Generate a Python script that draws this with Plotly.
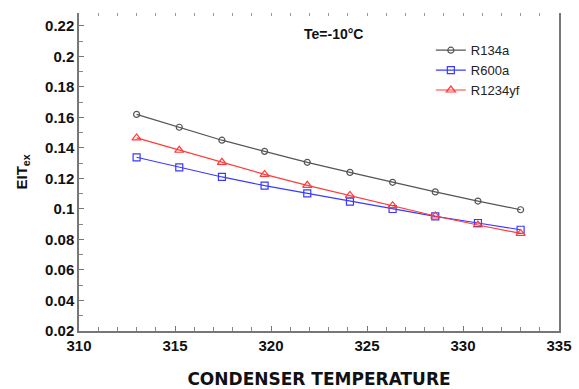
import plotly.graph_objects as go

temps = [313 + i * 20 / 9 for i in range(10)]
r134a = [0.162, 0.1536, 0.1451, 0.1378, 0.1306, 0.124, 0.1175, 0.1112, 0.1052, 0.0995]
r600a = [0.1339, 0.1273, 0.121, 0.1153, 0.1103, 0.1048, 0.1000, 0.0951, 0.0908, 0.0864]
r1234yf = [0.1466, 0.1385, 0.1306, 0.1227, 0.1155, 0.1089, 0.1022, 0.0954, 0.0895, 0.0840]

xticks = [310, 315, 320, 325, 330, 335]
yticks = [0.02, 0.04, 0.06, 0.08, 0.1, 0.12, 0.14, 0.16, 0.18, 0.2, 0.22]
ytick_labels = ["0.02", "0.04", "0.06", "0.08", "0.1", "0.12", "0.14", "0.16", "0.18", "0.2", "0.22"]

fig = go.Figure()
fig.add_trace(go.Scatter(x=temps, y=r134a, name="R134a", mode="lines+markers",
                         line=dict(color="#555555", width=1.2),
                         marker=dict(symbol="circle-open", size=6, color="#555555", line=dict(width=1.2))))
fig.add_trace(go.Scatter(x=temps, y=r600a, name="R600a", mode="lines+markers",
                         line=dict(color="#3a3aff", width=1.2),
                         marker=dict(symbol="square-open", size=7, color="#3a3aff", line=dict(width=1.2))))
fig.add_trace(go.Scatter(x=temps, y=r1234yf, name="R1234yf", mode="lines+markers",
                         line=dict(color="#ff3b3b", width=1.2),
                         marker=dict(symbol="triangle-up-open", size=8, color="#ff3b3b", line=dict(width=1.2))))
fig.add_trace(go.Scatter(x=[310], y=[0.02], xaxis="x2", mode="markers", marker=dict(opacity=0),
                         showlegend=False, hoverinfo="skip"))

tick_font = dict(family="Liberation Sans, Arial", size=15, color="#111111", weight="bold")
fig.update_layout(
    width=579, height=389,
    margin=dict(l=79, r=20, t=13, b=58, autoexpand=False),
    plot_bgcolor="white", paper_bgcolor="white",
    font=dict(family="Liberation Sans, Arial", color="#111111"),
    showlegend=True,
    legend=dict(x=0.733, y=0.93, xanchor="left", yanchor="top",
                font=dict(size=13, family="Liberation Sans, Arial", color="#222222"),
                bgcolor="rgba(0,0,0,0)", tracegroupgap=0, itemwidth=30),
    xaxis=dict(range=[310, 335], tickvals=xticks, ticktext=[str(t) for t in xticks],
               showgrid=False, zeroline=False, showline=True, linecolor="#777777", linewidth=1.5,
               ticks="inside", ticklen=5, tickcolor="#777777", tickwidth=1,
               minor=dict(dtick=1, ticks="inside", ticklen=4, tickcolor="#888888"),
               tickfont=tick_font,
               title=dict(text="<b>CONDENSER TEMPERATURE</b>",
                          font=dict(size=17, family="DejaVu Sans", color="#111111"), standoff=22)),
    yaxis=dict(range=[0.02, 0.2285], tickvals=yticks, ticktext=ytick_labels,
               showgrid=False, zeroline=False, showline=True, linecolor="#777777", linewidth=1.5,
               mirror=True,
               ticks="inside", ticklen=5, tickcolor="#777777", tickwidth=1,
               minor=dict(dtick=0.01, ticks="inside", ticklen=4, tickcolor="#888888"),
               tickfont=tick_font,
               title=dict(text="<b>EIT<sub>ex</sub></b>",
                          font=dict(size=15, family="Liberation Sans, Arial", color="#111111"), standoff=14)),
    xaxis2=dict(overlaying="x", side="top", range=[310, 335], showline=False, showgrid=False, zeroline=False,
                tickvals=list(range(310, 336)), ticks="inside", ticklen=3, tickcolor="#999999",
                showticklabels=False),
)

fig.add_annotation(x=324.9, y=0.2145, xref="x", yref="y", text="<b>Te=-10°C</b>", showarrow=False,
                   font=dict(size=14, family="Liberation Sans, Arial", color="#111111"),
                   xanchor="right", yanchor="middle")

fig.write_html("out.html", config={"displayModeBar": False},
               post_script="document.body.style.margin='0';")
